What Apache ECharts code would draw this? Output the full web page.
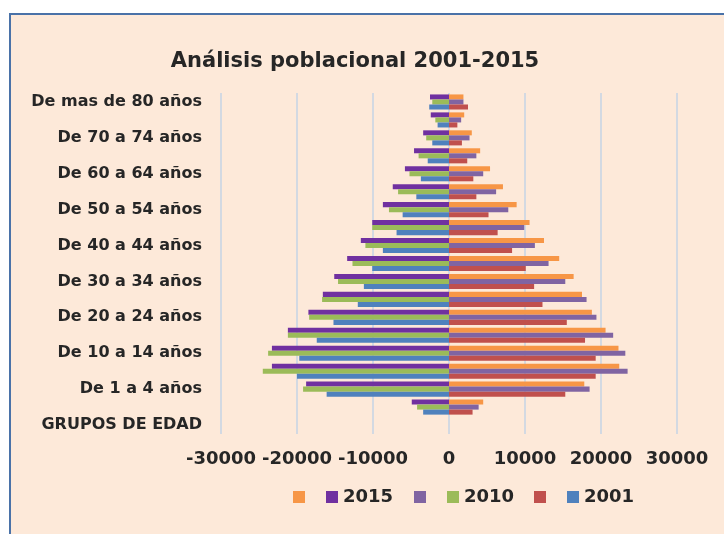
<!DOCTYPE html>
<html>
<head>
<meta charset="utf-8">
<script src="https://cdn.jsdelivr.net/npm/echarts@6/dist/echarts.min.js"></script>
<style>
  html, body { margin: 0; padding: 0; background: #fff; }
  #main { width: 724px; height: 534px; }
</style>
</head>
<body>
<div id="main"></div>
<script>
var categories = ['GRUPOS DE EDAD', 'Menor de 1 año', 'De 1 a 4 años', 'De 5 a 9 años', 'De 10 a 14 años',
  'De 15 a 19 años', 'De 20 a 24 años', 'De 25 a 29 años', 'De 30 a 34 años', 'De 35 a 39 años',
  'De 40 a 44 años', 'De 45 a 49 años', 'De 50 a 54 años', 'De 55 a 59 años', 'De 60 a 64 años',
  'De 65 a 69 años', 'De 70 a 74 años', 'De 75 a 79 años', 'De mas de 80 años'];

// lado izquierdo (negativos)
var left2015 = [0, -4900, -18800, -23300, -23300, -21200, -18500, -16600, -15100, -13400, -11600, -10100, -8700, -7400, -5800, -4600, -3400, -2400, -2500];
var left2010 = [0, -4200, -19200, -24500, -23800, -21200, -18400, -16700, -14600, -12700, -11000, -10100, -7900, -6700, -5200, -4000, -3000, -1800, -2200];
var left2001 = [0, -3400, -16100, -20000, -19700, -17400, -15200, -12000, -11200, -10100, -8700, -6900, -6100, -4300, -3700, -2800, -2200, -1500, -2600];
// lado derecho (positivos)
var right2015 = [0, 4500, 17800, 22400, 22300, 20600, 18800, 17500, 16400, 14500, 12500, 10600, 8900, 7100, 5400, 4100, 3000, 2000, 1900];
var right2010 = [0, 3900, 18500, 23500, 23200, 21600, 19400, 18100, 15300, 13100, 11300, 9900, 7800, 6200, 4500, 3600, 2700, 1600, 1900];
var right2001 = [0, 3100, 15300, 19300, 19300, 17900, 15500, 12300, 11200, 10100, 8300, 6400, 5200, 3600, 3200, 2400, 1700, 1100, 2500];

var xMin = -30000, xMax = 30000, xStep = 10000;

var chart = echarts.init(document.getElementById('main'), null, { renderer: 'canvas' });

var font = 'DejaVu Sans';
var textColor = '#262626';

function bar(name, data, stack, color) {
  return {
    name: name,
    type: 'bar',
    stack: stack,
    data: data,
    barGap: '0%',
    barCategoryGap: '16%',
    itemStyle: { color: color },
    emphasis: { disabled: true }
  };
}

// las series sin nombre usan espacios, el formatter los quita
function legendPart(left, names) {
  return {
    left: left,
    top: 488,
    padding: 0,
    itemWidth: 12,
    itemHeight: 12,
    itemGap: 21,
    icon: 'rect',
    selectedMode: false,
    data: names,
    formatter: function (name) { return name.trim(); },
    textStyle: { fontFamily: font, fontWeight: 'bold', fontSize: 18, color: textColor }
  };
}

var option = {
  animation: false,
  graphic: [{
    type: 'rect',
    z: -10,
    shape: { x: 10, y: 14, width: 720, height: 530 },
    style: { fill: '#fde9d9', stroke: '#4a72a8', lineWidth: 2 }
  }],
  title: {
    text: 'Análisis poblacional 2001-2015',
    left: 350,
    textAlign: 'center',
    top: 46,
    textStyle: { fontFamily: font, fontWeight: 'bold', fontSize: 21, color: textColor }
  },
  legend: [
    legendPart(293, [' ', '2015']),
    legendPart(414, ['  ', '2010']),
    legendPart(534, ['   ', '2001'])
  ],
  grid: { left: 221, right: 47, top: 93, bottom: 100, containLabel: false },
  xAxis: {
    type: 'value',
    min: xMin,
    max: xMax,
    interval: xStep,
    axisLine: { show: false },
    axisTick: { show: false },
    splitLine: { show: true, lineStyle: { color: '#d3d9e2', width: 2 } },
    axisLabel: {
      margin: 16,
      fontFamily: font, fontWeight: 'bold', fontSize: 18, color: textColor,
      formatter: function (v) { return String(v); }
    }
  },
  yAxis: {
    type: 'category',
    data: categories,
    axisLine: { show: false },
    axisTick: { show: false },
    axisLabel: { interval: 1, margin: 19, fontFamily: font, fontWeight: 'bold', fontSize: 16, color: textColor }
  },
  series: [
    bar(' ', right2015, 'a2015', '#f79646'),
    bar('2015', left2015, 'a2015', '#7030a0'),
    bar('  ', right2010, 'a2010', '#8064a2'),
    bar('2010', left2010, 'a2010', '#9bbb59'),
    bar('   ', right2001, 'a2001', '#c0504d'),
    bar('2001', left2001, 'a2001', '#4f81bd')
  ]
};

chart.setOption(option);
</script>
</body>
</html>
